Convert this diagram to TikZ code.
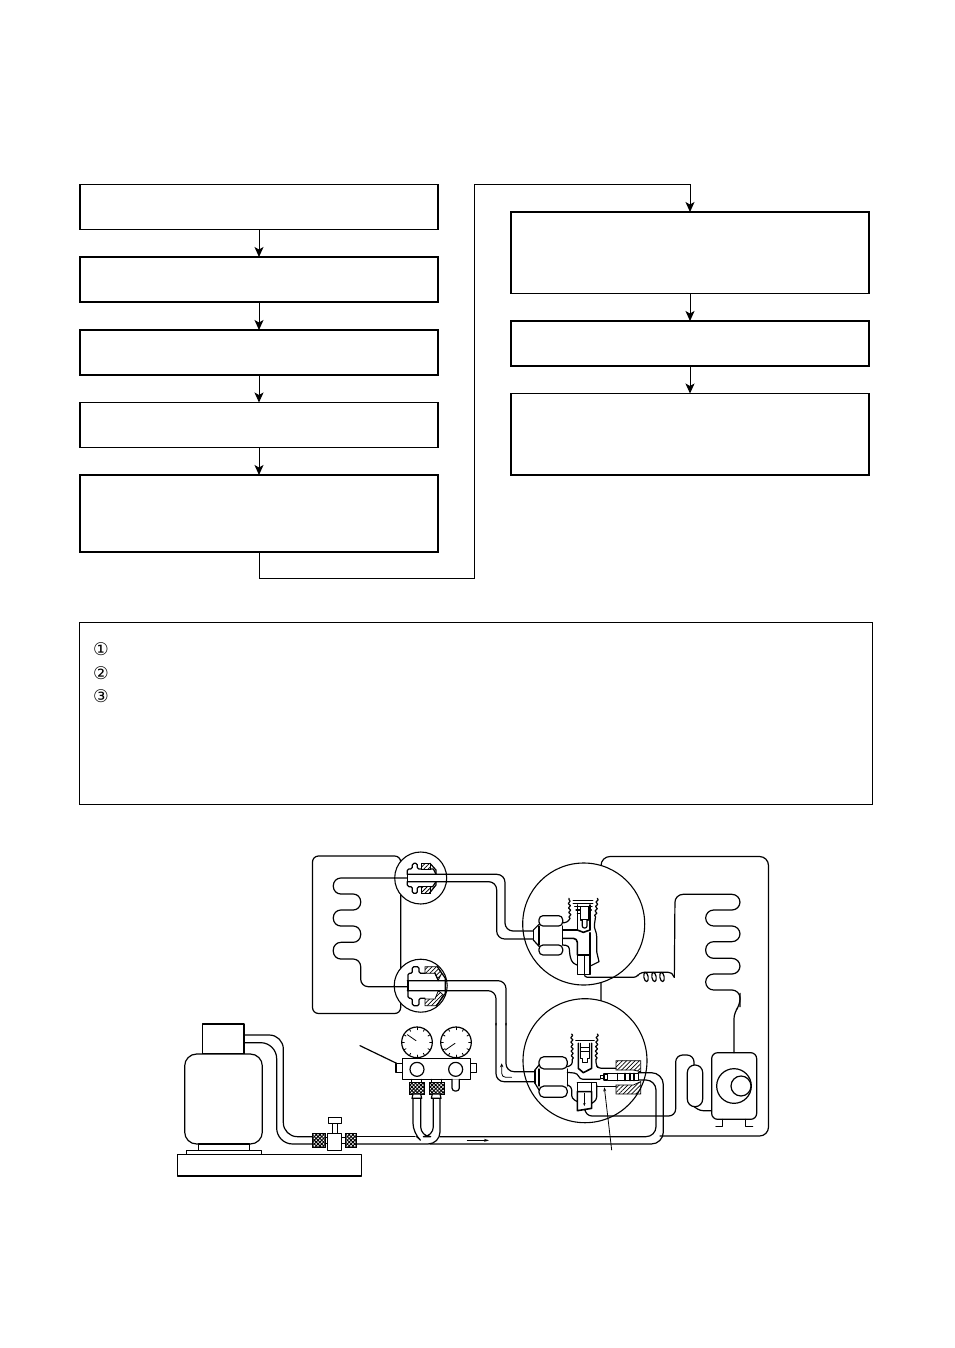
\documentclass[tikz,border=0pt]{standalone}
\usepackage{fontspec}
\newfontfamily\symfont{DejaVu Sans}
\usetikzlibrary{arrows.meta,patterns.meta,decorations.pathmorphing}
\tikzset{
  fbox/.style={draw,line width=1.2pt,anchor=north west,minimum width=358pt,inner sep=0pt,outer sep=0pt},
  flow/.style={line width=1pt,-{Stealth[length=10pt,width=9pt,inset=2.5pt]}},
  ln/.style={line width=1.2pt,line cap=round,line join=round},
  thn/.style={line width=.8pt,line cap=round,line join=round},
  thk/.style={line width=1.6pt,line cap=round,line join=round},
  rnd/.style={rounded corners=#1},
  rnd/.default=6pt,
  knurl/.style={draw,line width=.7pt,pattern={Hatch[angle=45,distance=2.6pt,line width=.95pt]}},
  hatch/.style={line width=.8pt,pattern={Lines[angle=45,distance=3pt,line width=.8pt]}},
  wav/.style={decorate,decoration={snake,amplitude=1pt,segment length=4.5pt}},
  whitecirc/.style={draw,fill=white,line width=1.1pt},
  circnum/.style={font=\symfont\fontsize{17.5}{18}\selectfont,inner sep=0pt},
  z3/.style={x=0.33333pt,y=-0.33333pt}
}
\begin{document}
\begin{tikzpicture}[x=1pt,y=-1pt]
\useasboundingbox (0,0) rectangle (954,1348);
\fill[white] (0,0) rectangle (954,1348);
% flow chart
\node[fbox,minimum height=45pt] (b1) at (80,184.5) {};
\node[fbox,minimum height=45pt] (b2) at (80,257) {};
\node[fbox,minimum height=45pt] (b3) at (80,330) {};
\node[fbox,minimum height=45pt] (b4) at (80,402.5) {};
\node[fbox,minimum height=77pt] (b5) at (80,475) {};
\node[fbox,minimum height=81.5pt] (b6) at (511,212) {};
\node[fbox,minimum height=45pt] (b7) at (511,321) {};
\node[fbox,minimum height=81.5pt] (b8) at (511,393.5) {};
\coordinate (c1) at (259,578.5);
\coordinate (c2) at (474.5,578.5);
\coordinate (c3) at (474.5,184.5);
\coordinate (c4) at (690,184.5);
\draw[flow] (b1.south) -- (b2.north);
\draw[flow] (b2.south) -- (b3.north);
\draw[flow] (b3.south) -- (b4.north);
\draw[flow] (b4.south) -- (b5.north);
\draw[flow] (b5.south) -- (c1) -- (c2) -- (c3) -- (c4) -- (b6.north);
\draw[flow] (b6.south) -- (b7.north);
\draw[flow] (b7.south) -- (b8.north);
% note box
\node[draw,line width=1pt,anchor=north west,minimum width=793pt,minimum height=181.5pt,inner sep=0pt,outer sep=0pt] (note) at (79.4,622.6) {};
\node[circnum] (n1) at (101,649) {①};
\node[circnum] (n2) at (101,673) {②};
\node[circnum] (n3) at (101,696.5) {③};
% unit outlines
\draw[ln,rnd] (312.5,900) -- (312.5,856) -- (400.7,856) -- (400.7,1013.5) -- (312.5,1013.5) -- (312.5,900);
\draw[ln,rnd=9pt] (601,1005) -- (601,856.5) -- (768.5,856.5) -- (768.5,1136) -- (660,1136);
% circles
\draw[whitecirc] (420.7,878) circle (26);
\draw[whitecirc] (420.7,985.7) circle (26.5);
\draw[whitecirc] (583.7,924) circle (61);
\draw[whitecirc] (585,1060.7) circle (62);
% ---- indoor coil + circles A, B (zoom 2 coordinates)
\begin{scope}[shift={(300,845)},z3]
\draw[ln,rnd=7.5pt] (322,99) -- (100,99) -- (100,147) -- (182,147) -- (182,195) -- (100,195) -- (100,243) -- (182,243) -- (182,292) -- (100,292) -- (100,342) -- (182,342) -- (182,425) -- (322,425);
% pipe A
\draw[ln,rnd=8pt] (322,88) -- (615,88) -- (615,258) -- (700,258);
\draw[ln,rnd=8pt] (322,110) -- (590,110) -- (590,282) -- (700,282);
\draw[ln] (322,88) -- (322,110);
% fitting A
\draw[ln,rnd=1.5pt] (322,88) -- (322,72) -- (337,72) -- (337,55) -- (352,55) -- (352,72) -- (365,72);
\draw[ln,rnd=1.5pt] (322,110) -- (322,125) -- (337,125) -- (337,145) -- (352,145) -- (352,125) -- (365,125);
\draw[hatch] (365,72) -- (365,55) -- (390,55) -- (390,72) -- cycle;
\draw[hatch] (365,125) -- (365,145) -- (390,145) -- (390,125) -- cycle;
\draw[ln] (390,72) -- (400,72) -- (408,88);
\draw[ln] (390,55) -- (408,75) -- (408,88);
\draw[ln] (408,110) -- (408,120) -- (388,145);
\draw[ln] (390,125) -- (398,125) -- (408,110);
% pipe B
\draw[ln,rnd=8pt] (322,407) -- (618,407) -- (618,540);
\draw[ln,rnd=8pt] (322,437) -- (588,437) -- (588,540);
\draw[thk] (324,407) -- (324,437);
% fitting B
\draw[ln,rnd=1.5pt] (324,407) -- (324,385) -- (337,385) -- (337,365) -- (357,365) -- (357,385) -- (375,385);
\draw[ln,rnd=1.5pt] (324,437) -- (324,460) -- (337,460) -- (337,482) -- (357,482) -- (357,460) -- (375,460);
\draw[hatch] (375,385) -- (375,365) -- (412,365) -- (425,385) -- (415,405) -- (405,385) -- cycle;
\draw[hatch] (375,462) -- (375,482) -- (410,482) -- (430,450) -- (415,437) -- (405,462) -- cycle;
\draw[ln] (412,365) -- (436,400) -- (436,445) -- (410,482);
\draw[ln] (405,385) -- (415,407);
\end{scope}
% ---- circle C + outdoor coil (zoom 3 coordinates)
\begin{scope}[shift={(490,850)},z3]
\draw[ln,rnd=3pt] (283,368) -- (283,382) -- (440,382) -- (447,370) -- (462,367);
\foreach \c in {468,492,516}{\draw[ln,rotate around={10:(\c,381)}] (\c,381) ellipse (6.5 and 14);}
\draw[ln] (462,367) -- (535,367) -- (545,370) -- (553,382);
\draw[ln,rnd=8pt] (553,382) -- (555,133) -- (750,133) -- (750,180) -- (647,180) -- (647,228) -- (750,228) -- (750,275) -- (647,275) -- (647,325) -- (750,325) -- (750,372) -- (647,372) -- (647,420) -- (750,420) -- (750,470);
% nut
\draw[ln,rnd=2pt] (130,240) -- (148,222);
\draw[ln,rnd=2pt] (130,270) -- (148,290);
\draw[ln] (130,240) -- (130,270);
\draw[ln,fill=white,rounded corners=4pt] (147,197) rectangle (218,228);
\draw[ln,fill=white,rounded corners=4pt] (147,285) rectangle (218,315);
\draw[ln] (147,228) -- (147,285);
\draw[ln] (218,228) -- (218,285);
% body
\draw[ln,rnd=3pt] (218,218) -- (232,218) -- (240,205);
\draw[ln,wav] (240,205) -- (237,145);
\draw[ln,wav] (322,145) -- (316,205);
\draw[ln,rnd=3pt] (316,205) -- (312,232) -- (320,250) -- (320,305);
\draw[ln] (320,305) -- (327,335) -- (303,347);
\draw[ln,rnd=3pt] (218,285) -- (237,287) -- (240,320) -- (248,340) -- (262,345);
\draw[thk] (218,240) -- (262,240) -- (262,165);
\draw[thk,rnd=4pt] (218,265) -- (262,265) -- (262,315);
\draw[thk] (262,240) -- (280,247) -- (300,240) -- (300,165);
\draw[ln,rnd=3pt] (300,248) -- (300,315);
% top cap
\draw[thk] (250,152) -- (308,152);
\draw[thk] (250,160) -- (308,160);
\draw[ln] (254,170) -- (306,170);
\draw[ln] (258,180) -- (304,180);
\draw[ln] (262,190) -- (300,190);
\draw[ln,fill=white] (272,170) -- (272,210) -- (296,210) -- (296,170);
\draw[ln,rnd=2pt,fill=white] (277,210) -- (277,234) -- (291,234) -- (291,210);
% bottom plug
\draw[thk,fill=white] (262,315) rectangle (300,373);
\draw[ln] (283,315) -- (283,373);
\end{scope}
% ---- circle D + compressor etc (zoom 4 coordinates)
\begin{scope}[shift={(490,990)},z3]
% cold pipe ends from B
\draw[ln,rnd=8pt] (48,100) -- (48,245) -- (135,245);
\draw[ln,rnd=8pt] (18,100) -- (18,275) -- (135,275);
\draw[thn,-{Stealth[length=4pt,width=3.5pt]},rnd=4pt] (65,262) -- (35,262) -- (35,220);
% bottom line to compressor
\draw[ln,rnd=7pt] (285,362) -- (285,378) -- (557,378) -- (557,195) -- (612,195) -- (612,225);
\draw[ln,fill=white,rounded corners=7.5pt] (592,225) rectangle (638,350);
\draw[ln,rnd=3pt] (612,350) -- (630,362) -- (665,362);
% compressor
\draw[ln,fill=white,rounded corners=6pt] (665,188) rectangle (800,388);
\draw[ln] (732,288) circle (52);
\draw[ln,fill=white] (753,288) circle (30);
\draw[ln] (698,388) -- (698,410) -- (678,410);
\draw[ln] (767,388) -- (767,410) -- (788,410);
\draw[ln,rnd=6pt] (732,188) -- (732,68) -- (750,45) -- (750,10);
% discharge tube
\draw[ln,rnd=12pt] (445,248) -- (520,248) -- (520,462) -- (-180,462);
\draw[ln,rnd=10pt] (445,270) -- (498,270) -- (498,440) -- (-150,440);
% nut
\draw[ln] (135,240) -- (135,280);
\draw[ln] (135,240) -- (147,225);
\draw[ln] (135,280) -- (147,300);
\draw[ln,fill=white,rounded corners=5pt] (147,200) rectangle (232,237);
\draw[ln,fill=white,rounded corners=5pt] (147,288) rectangle (232,322);
\draw[ln] (147,237) -- (147,288);
\draw[ln] (232,237) -- (232,288);
% body
\draw[ln,wav] (245,132) -- (247,208);
\draw[ln,wav] (322,132) -- (318,208);
\draw[ln,rnd=3pt] (232,230) -- (247,225) -- (247,208);
\draw[ln,rnd=3pt] (318,208) -- (318,225) -- (325,235) -- (378,235);
\draw[thk] (265,160) -- (265,235) -- (280,248) -- (305,235) -- (305,160);
\draw[thk] (258,152) -- (312,152);
\draw[ln] (272,160) -- (272,205) -- (278,205) -- (278,218) -- (292,218) -- (292,205) -- (298,205) -- (298,160);
\draw[ln] (272,172) -- (298,172);
\draw[ln] (272,184) -- (298,184);
\draw[ln,rnd=3pt] (232,247) -- (262,250) -- (270,268) -- (330,268);
\draw[ln,rnd=3pt] (232,285) -- (245,290) -- (245,325) -- (262,335);
\draw[ln,rnd=3pt] (320,285) -- (320,330) -- (305,340);
\draw[ln] (262,278) -- (262,305);
\draw[ln] (305,278) -- (305,305);
\draw[ln] (262,278) -- (320,278) -- (320,290) -- (378,290);
% hatched block
\draw[hatch] (378,212) -- (452,212) -- (452,245) -- (430,240) -- (378,240) -- cycle;
\draw[hatch] (378,312) -- (452,312) -- (452,275) -- (430,285) -- (378,285) -- cycle;
% service needle
\draw[ln] (332,257) rectangle (342,266);
\draw[ln,fill=white] (342,252) rectangle (352,270);
\draw[thk,fill=white] (352,250) rectangle (445,272);
\foreach \x in {382,405,420,432}{\draw[ln] (\x,250) -- (\x,272);}
% bottom plug
\draw[thk,fill=white] (262,305) -- (305,305) -- (305,355) -- (262,362) -- cycle;
\draw[thn,-{Stealth[length=3pt,width=2.5pt]}] (283,310) -- (283,348);
% pointer
\coordinate (ptr) at (365,480);
\draw[thn,-{Stealth[length=4pt,width=3pt]}] (ptr) -- (343,292);
\end{scope}
% ---- cylinder, manifold (zoom 1 coordinates)
\begin{scope}[shift={(170,1000)},z3]
\draw[ln,fill=white] (97,72) rectangle (222,162);
\draw[ln,fill=white,rounded corners=12pt] (44,162) rectangle (277,432);
\draw[ln,fill=white] (85,432) rectangle (238,452);
\draw[ln,fill=white] (49,452) rectangle (275,463);
\draw[ln,fill=white] (22,463) rectangle (574,528);
% hose
\draw[ln,rnd=14pt] (222,105) -- (340,105) -- (340,410) -- (427,410);
\draw[ln,rnd=16pt] (222,128) -- (320,128) -- (320,432) -- (427,432);
\draw[ln] (222,105) -- (222,128);
\draw[knurl] (427,400) rectangle (465,442);
\draw[ln] (465,412) -- (472,412);
\draw[ln] (465,430) -- (472,430);
\draw[ln,fill=white] (472,400) rectangle (515,452);
\draw[ln,fill=white] (487,370) rectangle (502,400);
\draw[ln,fill=white] (475,352) rectangle (515,370);
\draw[ln] (515,412) -- (525,412);
\draw[ln] (515,430) -- (525,430);
\draw[knurl] (525,400) rectangle (560,442);
% line to right
\draw[ln] (560,410) -- (735,410);
\draw[ln,rnd=12pt] (560,432) -- (810,432) -- (810,295);
\draw[ln,rnd=10pt] (729,295) -- (729,400) -- (740,410);
\draw[ln,rnd=10pt] (752,295) -- (752,410) -- (790,410) -- (790,295);
\draw[thn,-{Stealth[length=5pt,width=3pt]}] (892,421) -- (957,421);
% gauges
\draw[ln,fill=white] (741,127) circle (46);
\draw[ln,fill=white] (858,127) circle (46);
\foreach \a in {0,30,...,330}{
  \draw[thn] ({741+46*cos(\a)},{127+46*sin(\a)}) -- ({741+38*cos(\a)},{127+38*sin(\a)});
  \draw[thn] ({858+46*cos(\a)},{127+46*sin(\a)}) -- ({858+38*cos(\a)},{127+38*sin(\a)});
}
\draw[thn] (712,104) -- (738,122);
\draw[thn] (826,150) -- (855,130);
% manifold
\draw[ln,fill=white] (678,190) rectangle (697,218);
\draw[ln,fill=white] (902,190) rectangle (920,218);
\draw[ln,fill=white] (697,176) rectangle (902,238);
\draw[ln] (741,208) circle (21);
\draw[ln] (857,208) circle (21);
\draw[ln,fill=white,rounded corners=3pt] (846,238) -- (846,273) -- (868,273) -- (868,238);
\draw[knurl] (717,248) rectangle (764,282);
\draw[knurl] (778,248) rectangle (824,282);
\draw[ln] (725,238) -- (725,248);
\draw[ln] (755,238) -- (755,248);
\draw[ln] (785,238) -- (785,248);
\draw[ln] (815,238) -- (815,248);
\draw[ln,fill=white] (729,282) -- (752,282) -- (755,295) -- (726,295) -- cycle;
\draw[ln,fill=white] (787,282) -- (810,282) -- (813,295) -- (784,295) -- cycle;
\coordinate (mp) at (570,137);
\draw[ln] (mp) -- (680,190);
\end{scope}
\end{tikzpicture}
\end{document}
